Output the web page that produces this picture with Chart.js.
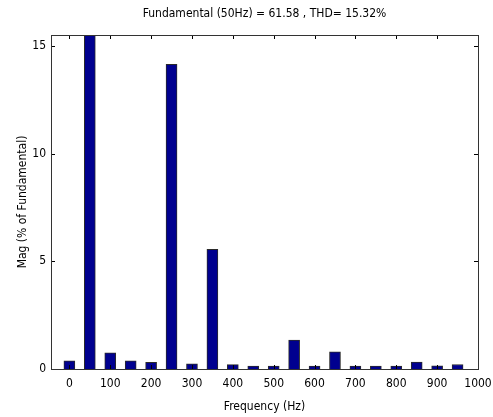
<!DOCTYPE html>
<html>
<head>
<meta charset="utf-8">
<script src="https://cdn.jsdelivr.net/npm/chart.js@4/dist/chart.umd.min.js"></script>
<style>
  html, body { margin: 0; padding: 0; background: #fff; }
  #wrap { width: 493px; height: 417px; }
</style>
</head>
<body>
<div id="wrap"><canvas id="c" width="493" height="417"></canvas></div>
<script>
// ---- data ----
const frequencies = [0, 50, 100, 150, 200, 250, 300, 350, 400, 450, 500, 550, 600, 650, 700, 750, 800, 850, 900, 950];
const magnitudes  = [0.38, 100, 0.75, 0.38, 0.31, 14.14, 0.24, 5.55, 0.20, 0.14, 0.14, 1.34, 0.14, 0.80, 0.14, 0.14, 0.14, 0.32, 0.15, 0.21];
const xTickValues = [0, 100, 200, 300, 400, 500, 600, 700, 800, 900, 1000];
const yTickValues = [0, 5, 10, 15];
const titleText = 'Fundamental (50Hz) = 61.58 , THD= 15.32%';
const xTitle = 'Frequency (Hz)';
const yTitle = 'Mag (% of Fundamental)';

const FONT = '"Liberation Sans Narrow", "DejaVu Sans Condensed", "Liberation Sans", sans-serif';

// box + inward ticks like MATLAB axes; title centred over the plot area
const boxPlugin = {
  id: 'boxTicks',
  afterLayout(chart) {
    const tb = chart.titleBlock;
    if (tb) {
      tb.left = chart.chartArea.left;
      tb.right = chart.chartArea.right;
      tb.width = tb.right - tb.left;
    }
  },
  afterDatasetsDraw(chart) {
    const {ctx, chartArea: a, scales: {x, y}} = chart;
    const L = 4;
    ctx.save();
    ctx.strokeStyle = '#000';
    ctx.lineWidth = 1;
    ctx.beginPath();
    x.ticks.forEach(t => {
      const px = Math.round(x.getPixelForValue(t.value)) + 0.5;
      ctx.moveTo(px, a.bottom); ctx.lineTo(px, a.bottom - L);
      ctx.moveTo(px, a.top); ctx.lineTo(px, a.top + L);
    });
    y.ticks.forEach(t => {
      const py = Math.round(y.getPixelForValue(t.value)) + 0.5;
      ctx.moveTo(a.left, py); ctx.lineTo(a.left + L, py);
      ctx.moveTo(a.right, py); ctx.lineTo(a.right - L, py);
    });
    ctx.stroke();
    ctx.strokeStyle = '#333';
    ctx.strokeRect(Math.round(a.left) + 0.5, Math.round(a.top) + 0.5,
                   Math.round(a.right - a.left), Math.round(a.bottom - a.top));
    ctx.restore();
  }
};

new Chart(document.getElementById('c'), {
  type: 'bar',
  data: {
    datasets: [{
      data: frequencies.map((f, i) => ({x: f, y: magnitudes[i]})),
      backgroundColor: '#00008F',
      borderColor: '#2a2a2a',
      borderWidth: 1,
      barThickness: 11,
      clip: 0
    }]
  },
  plugins: [boxPlugin],
  options: {
    responsive: false,
    animation: false,
    devicePixelRatio: 1,
    layout: { padding: { left: 0, right: 15, top: 0, bottom: 0 } },
    plugins: {
      legend: { display: false },
      tooltip: { enabled: false },
      title: {
        display: true,
        text: titleText,
        color: '#000',
        font: { family: FONT, size: 12, weight: 'normal' },
        padding: { top: 7, bottom: 13.6 }
      }
    },
    scales: {
      x: {
        type: 'linear',
        offset: false,
        min: -45,
        max: 1000,
        afterBuildTicks: s => { s.ticks = xTickValues.map(v => ({value: v})); },
        afterFit: s => { s.height = 48; s.paddingRight = 0; s.paddingLeft = 0; },
        grid: { display: false, drawTicks: false, offset: false },
        border: { display: false },
        ticks: { color: '#000', padding: 8, maxRotation: 0, autoSkip: false,
                 callback: v => String(v),
                 font: { family: FONT, size: 12 } },
        title: { display: true, text: xTitle, color: '#000',
                 font: { family: FONT, size: 12 }, padding: { top: 0, bottom: 3 } }
      },
      y: {
        min: 0,
        max: 15.5,
        afterBuildTicks: s => { s.ticks = yTickValues.map(v => ({value: v})); },
        afterFit: s => { s.width = 51; },
        grid: { display: false, drawTicks: false },
        border: { display: false },
        ticks: { color: '#000', padding: 5, callback: v => String(v),
                 font: { family: FONT, size: 12 } },
        title: { display: true, text: yTitle, color: '#000',
                 font: { family: FONT, size: 12 }, padding: { top: 16, bottom: 0 } }
      }
    }
  }
});
</script>
</body>
</html>
